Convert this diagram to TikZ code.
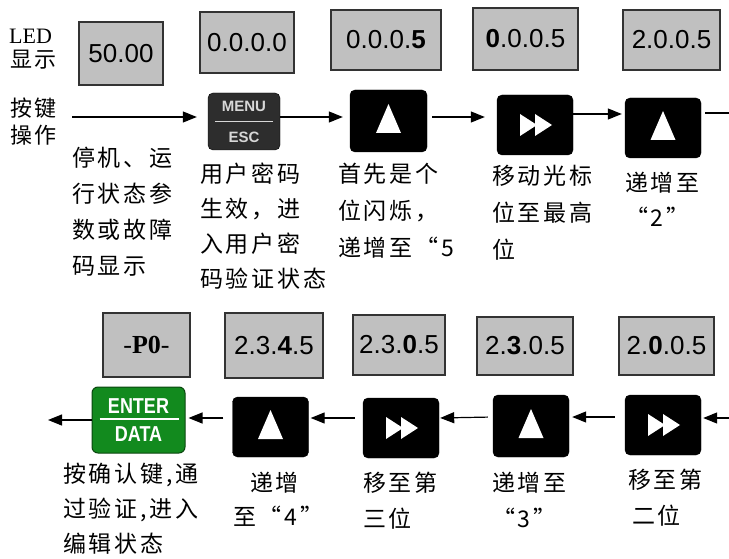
\documentclass[tikz,border=0pt]{standalone}
\usepackage{fontspec}
\setmainfont{Liberation Serif}
\newfontfamily\cjk[LetterSpace=12]{Noto Sans CJK SC}
\newfontfamily\lcd{Liberation Sans}
\usetikzlibrary{arrows.meta,calc}
\definecolor{dispgray}{RGB}{192,192,192}
\definecolor{keygray}{RGB}{45,45,45}
\definecolor{entergreen}{RGB}{18,138,30}
\definecolor{greenedge}{RGB}{10,70,15}
\definecolor{menutext}{RGB}{215,215,215}
\begin{document}
\begin{tikzpicture}[x=1pt,y=-1pt,
  disp/.style={draw=black!80, line width=1.3pt, fill=dispgray, inner sep=0pt,
    font=\lcd\fontsize{26}{30}\selectfont},
  keybox/.style={draw=black, fill=black, rounded corners=5pt, minimum width=76pt,
    minimum height=60pt, inner sep=0pt},
  upkey/.style={keybox, path picture={
    \fill[white, sharp corners] ($(path picture bounding box.center)+(0pt,17pt)$)
      -- ($(path picture bounding box.center)+(12.5pt,-12pt)$)
      -- ($(path picture bounding box.center)+(-12.5pt,-12pt)$) -- cycle;}},
  ffkey/.style={keybox, path picture={
    \fill[white, sharp corners] ($(path picture bounding box.center)+(-15pt,11pt)$)
      -- ($(path picture bounding box.center)+(2pt,0pt)$)
      -- ($(path picture bounding box.center)+(-15pt,-11pt)$) -- cycle;
    \fill[white, sharp corners] ($(path picture bounding box.center)+(0pt,11pt)$)
      -- ($(path picture bounding box.center)+(17pt,0pt)$)
      -- ($(path picture bounding box.center)+(0pt,-11pt)$) -- cycle;}},
  menukey/.style={draw=black, fill=keygray, rounded corners=5pt, minimum width=72pt,
    minimum height=57pt, inner sep=0pt, align=center, text=menutext,
    font=\lcd\bfseries\fontsize{15}{31}\selectfont},
  enterkey/.style={draw=greenedge, line width=1pt, fill=entergreen, rounded corners=6pt,
    minimum width=93pt, minimum height=66pt, inner sep=0pt, align=center,
    text=white, font=\lcd\bfseries\fontsize{18}{28}\selectfont},
  arr/.style={-{Triangle[length=14pt,width=11pt]}, line width=1.2pt},
  captxt/.style={anchor=north west, align=left, inner sep=0pt,
    font=\cjk\fontsize{23}{#1}\selectfont},
  captxt/.default=36
]
\useasboundingbox (0,0) rectangle (729,559);

% side labels
\node[anchor=north west, inner sep=0pt, font=\fontsize{22}{24}\selectfont] (lblled) at (9,29) {LED};
\node[anchor=north west, inner sep=0pt, font=\cjk\fontsize{22}{24}\selectfont] (lblshow) at (10,50) {显示};
\node[captxt=27, font=\cjk\fontsize{22}{27}\selectfont] (lblkey) at (10,98) {按键\\操作};

% top displays
\node[disp, minimum width=84pt, minimum height=63pt] (d1) at (121,53.5) {50.00};
\node[disp, minimum width=94pt, minimum height=61pt] (d2) at (247,42.5) {0.0.0.0};
\node[disp, minimum width=110pt, minimum height=60pt] (d3) at (386,40) {0.0.0.\textbf{5}};
\node[disp, minimum width=105pt, minimum height=62pt] (d4) at (525.5,39) {\textbf{0}.0.0.5};
\node[disp, minimum width=97pt, minimum height=60pt] (d5) at (671.5,40) {2.0.0.5};

% top keys
\node[menukey] (k1) at (244,121.5) {MENU\\ESC};
\draw[menutext, line width=1.3pt] ([xshift=7pt]k1.west) -- ([xshift=-7pt]k1.east);
\node[upkey, minimum width=77pt, minimum height=62pt] (k2) at (388.5,121) {};
\node[ffkey] (k3) at (535,125) {};
\node[upkey] (k4) at (663,128) {};

% top connectors
\coordinate (topstart) at (72,117);
\coordinate (topend) at (729,113);
\draw[arr, shorten >=11pt] (topstart) -- ([yshift=4.5pt]k1.west);
\draw[arr, shorten >=7pt] ([yshift=4.5pt]k1.east) -- ([yshift=4pt]k2.west);
\draw[arr, shorten <=5pt, shorten >=12pt] ([yshift=4pt]k2.east) -- ([yshift=8pt]k3.west);
\draw[arr, shorten >=3pt] ([yshift=11pt]k3.east) -- ([yshift=14pt]k4.west);
\draw[line width=1.2pt, shorten <=4pt] ([yshift=15pt]k4.east) -- (topend);

% top captions
\node[captxt] (c1) at (72,147) {停机、运\\行状态参\\数或故障\\码显示};
\node[captxt=35] (c2) at (200,163) {用户密码\\生效，进\\入用户密\\码验证状态};
\node[captxt=37] (c3) at (338,163) {首先是个\\位闪烁，\\递增至“5};
\node[captxt=37] (c4) at (492,165) {移动光标\\位至最高\\位};
\node[captxt=35] (c5) at (625,172) {递增至\\“2”};

% bottom displays
\node[disp, font=\rmfamily\fontsize{26}{30}\selectfont, minimum width=87pt, minimum height=64pt] (e1) at (146.5,345) {-\textbf{P0}-};
\node[disp, minimum width=98pt, minimum height=65pt] (e2) at (274,345.5) {2.3.\textbf{4}.5};
\node[disp, minimum width=92pt, minimum height=60pt] (e3) at (399,345) {2.3.\textbf{0}.5};
\node[disp, minimum width=96pt, minimum height=58pt] (e4) at (525,346) {2.\textbf{3}.0.5};
\node[disp, minimum width=95pt, minimum height=58pt] (e5) at (666.5,346) {2.\textbf{0}.0.5};

% bottom keys
\node[enterkey] (m1) at (138.5,420) {\scalebox{1}[1.2]{ENTER}\\\scalebox{1}[1.2]{DATA}};
\draw[white, line width=1.6pt] ([xshift=8pt,yshift=1pt]m1.west) -- ([xshift=-7pt,yshift=1pt]m1.east);
\node[upkey] (m2) at (270.5,427) {};
\node[ffkey] (m3) at (401,428) {};
\node[upkey, minimum height=62pt] (m4) at (531,426) {};
\node[ffkey] (m5) at (663,425) {};

% bottom connectors
\coordinate (botstart) at (729,418);
\coordinate (botend) at (48,420);
\draw[arr, shorten >=2pt] (botstart) -- ([yshift=7pt]m5.east);
\draw[arr, shorten <=10pt, shorten >=3pt] ([yshift=8pt]m5.west) -- ([yshift=9pt]m4.east);
\draw[arr, shorten <=5pt, shorten >=1pt] ([yshift=9pt]m4.west) -- ([yshift=10pt]m3.east);
\draw[arr, shorten <=8pt, shorten >=2pt] ([yshift=10pt]m3.west) -- ([yshift=9pt]m2.east);
\draw[arr, shorten <=9pt, shorten >=3pt] ([yshift=9pt]m2.west) -- ([yshift=2pt]m1.east);
\draw[arr] (m1.west) -- (botend);

% bottom captions
\node[captxt=35] (c6) at (63,463) {按确认键,\hspace{3pt}通\\过验证,\hspace{3pt}进入\\编辑状态};
\node[captxt=34] (c7) at (233,472) {\hspace*{17pt}递增\\至“4”};
\node[captxt] (c8) at (363,472) {移至第\\三位};
\node[captxt] (c9) at (492,472) {递增至\\“3”};
\node[captxt] (c10) at (628,469) {移至第\\\hspace*{4pt}二位};
\end{tikzpicture}
\end{document}
